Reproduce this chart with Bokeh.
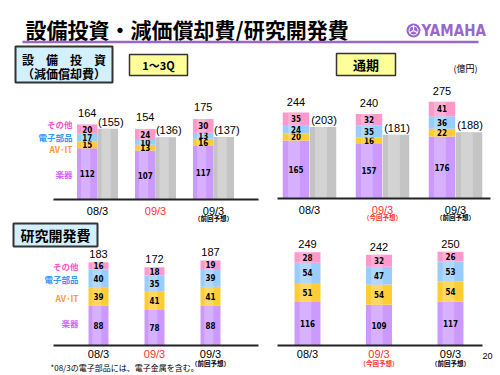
import math
import numpy as np
from bokeh.plotting import figure
from bokeh.models import Range1d
from bokeh.core.properties import value
from bokeh.embed import file_html
from bokeh.resources import INLINE

# ---------------- data ----------------
periods = ["08/3", "09/3", "09/3"]
period_colors = ["#000000", "#FF3333", "#000000"]
notes_left = ["", "", "（前回予想）"]
notes_right = ["", "（今回予想）", "（前回予想）"]
note_colors = ["#000000", "#FF3333", "#000000"]
segment_names = ["楽器", "AV･IT", "電子部品", "その他"]

# 設備投資 1~3Q (stacks: 楽器, AV-IT, 電子部品, その他) and 減価償却費
capex_q_gakki = [112, 107, 117]
capex_q_avit = [15, 13, 16]
capex_q_denshi = [17, 10, 13]
capex_q_other = [20, 24, 30]
capex_q_total = [164, 154, 175]
capex_q_dep = [155, 136, 137]

# 設備投資 通期
capex_y_gakki = [165, 157, 176]
capex_y_avit = [20, 16, 22]
capex_y_denshi = [24, 35, 36]
capex_y_other = [35, 32, 41]
capex_y_total = [244, 240, 275]
capex_y_dep = [203, 181, 188]

# 研究開発費 1~3Q
rd_q_gakki = [88, 78, 88]
rd_q_avit = [39, 41, 41]
rd_q_denshi = [40, 35, 39]
rd_q_other = [16, 18, 19]
rd_q_total = [183, 172, 187]

# 研究開発費 通期
rd_y_gakki = [116, 109, 117]
rd_y_avit = [51, 54, 54]
rd_y_denshi = [54, 47, 53]
rd_y_other = [28, 32, 26]
rd_y_total = [249, 242, 250]

# ---------------- styles ----------------
W, H = 500, 375
SEG_COLORS = [("#CC99FF", "#DCBBFF"), ("#FFCC33", "#FFDD77"),
              ("#99CCFF", "#BBDDFF"), ("#FF99CC", "#FFBBDD")]
GRAY = ("#C4C4C4", "#DADADA")
LEG_COLORS = ["#CC66FF", "#FF9933", "#3399FF", "#FF55CC"]
JP = value("Noto Sans CJK JP")
SANS = value("Liberation Sans")
NARROW = value("DejaVu Sans Condensed")

p = figure(width=W, height=H, x_range=Range1d(0, W), y_range=Range1d(H, 0),
           output_backend="svg", toolbar_location=None,
           x_axis_type=None, y_axis_type=None, min_border=0)
p.outline_line_color = None
p.background_fill_color = "white"
p.border_fill_color = "white"

# panel layouts: name -> (first group center px, group spacing px, baseline px, px per unit)
panels = {
    "tl": (97, 58, 199, 0.457),
    "tr": (309, 73, 198, 0.352),
    "bl": (98, 56, 345, 0.455),
    "br": (307, 71.5, 345, 0.375),
}
p.extra_x_ranges = {n: Range1d(-x0 / dx, (W - x0) / dx) for n, (x0, dx, b, k) in panels.items()}
p.extra_y_ranges = {n: Range1d((b - H) / k, b / k) for n, (x0, dx, b, k) in panels.items()}


def bar(name, x, w, bottom, top, colors):
    base, hi = colors
    p.vbar(x=x, width=w, bottom=bottom, top=top, fill_color=base, line_color=None,
           x_range_name=name, y_range_name=name)
    p.vbar(x=x - w * 0.08, width=w * 0.45, bottom=bottom, top=top, fill_color=hi,
           fill_alpha=0.7, line_color=None, x_range_name=name, y_range_name=name)


def draw_panel(name, stacks, totals, bw, off, total_dy, lab_dy, note_dy, notes, dep=None):
    x0, dx, b, k = panels[name]
    idx = np.arange(len(periods))
    xs = idx + off / dx
    w = bw / dx
    bottom = np.zeros(len(idx))
    for vals, cols in zip(stacks, SEG_COLORS):
        vals = np.array(vals, dtype=float)
        top = bottom + vals
        bar(name, xs, w, bottom, top, cols)
        p.text(x=xs, y=(bottom + top) / 2, text=[str(int(v)) for v in vals],
               text_font=NARROW, text_font_style="bold", text_font_size="8px",
               text_align="center", text_baseline="middle", text_color="#000000",
               x_range_name=name, y_range_name=name)
        bottom = top
    p.text(x=xs, y=bottom, text=[str(t) for t in totals], y_offset=-total_dy,
           text_font=SANS, text_font_size="11px", text_align="center",
           text_baseline="middle", text_color="#000000",
           x_range_name=name, y_range_name=name)
    if dep is not None:
        gx = idx - off / dx
        bar(name, gx, w, np.zeros(len(idx)), np.array(dep, dtype=float), GRAY)
        p.text(x=gx, y=dep, text=["(%d)" % d for d in dep], x_offset=3 if name == "tl" else 1,
               y_offset=-7, text_font=SANS, text_font_size="11px", text_align="center",
               text_baseline="middle", text_color="#000000",
               x_range_name=name, y_range_name=name)
    p.text(x=idx, y=[0] * len(idx), text=periods, y_offset=lab_dy, text_color=period_colors,
           text_font=SANS, text_font_size="11px", text_align="center", text_baseline="middle",
           x_range_name=name, y_range_name=name)
    p.text(x=idx, y=[0] * len(idx), text=notes, y_offset=note_dy, text_color=note_colors,
           text_font=JP, text_font_style="bold", text_font_size="6.5px", text_align="center",
           text_baseline="middle", x_range_name=name, y_range_name=name)


draw_panel("tl", [capex_q_gakki, capex_q_avit, capex_q_denshi, capex_q_other], capex_q_total,
           20.5, -10.25, 12, 11, 18, notes_left, dep=capex_q_dep)
draw_panel("tr", [capex_y_gakki, capex_y_avit, capex_y_denshi, capex_y_other], capex_y_total,
           26.5, -13.5, 11, 11, 18, notes_right, dep=capex_y_dep)
draw_panel("bl", [rd_q_gakki, rd_q_avit, rd_q_denshi, rd_q_other], rd_q_total,
           20, 0, 8, 8, 17, notes_left)
draw_panel("br", [rd_y_gakki, rd_y_avit, rd_y_denshi, rd_y_other], rd_y_total,
           26, 0, 8, 8, 17, notes_right)

# baselines
p.segment(x0=[53, 277, 53, 277], y0=[199, 198, 345, 345], x1=[258, 490, 258, 482],
          y1=[199, 198, 345, 345], line_color="#222222", line_width=2)

# segment legend labels (left of first bar)
leg_top_y = [173, 148, 136, 123]
leg_bot_y = [322, 297, 278, 265]
p.text(x=[72] * 4, y=leg_top_y, text=segment_names, text_color=LEG_COLORS, text_font=JP,
       text_font_style="bold", text_font_size="8.5px", text_align="right", text_baseline="middle")
p.text(x=[78] * 4, y=leg_bot_y, text=segment_names, text_color=LEG_COLORS, text_font=JP,
       text_font_style="bold", text_font_size="8.5px", text_align="right", text_baseline="middle")

# header
p.text(x=[25], y=[28], text=["設備投資・減価償却費/研究開発費"], text_font=JP,
       text_font_style="bold", text_font_size="21px", text_align="left", text_baseline="middle",
       text_color="#000000")
p.segment(x0=[22], y0=[41.5], x1=[478], y1=[41.5], line_color="#9966CC", line_width=2.5)

# Yamaha logo
p.scatter(x=[413], y=[30], size=14, marker="circle", fill_color="#9966CC", line_color=None)
p.scatter(x=[413], y=[30], size=9, marker="circle", fill_color=None, line_color="white", line_width=1)
for ang in (90, 210, 330):
    a = math.radians(ang)
    p.segment(x0=[413], y0=[30], x1=[413 + 5 * math.cos(a)], y1=[30 - 5 * math.sin(a)],
              line_color="white", line_width=1.3)
p.text(x=[421], y=[30], text=["YAMAHA"], text_font=NARROW, text_font_style="bold",
       text_font_size="15px", text_align="left", text_baseline="middle", text_color="#9966CC")

# boxes
p.quad(left=[15], right=[112], top=[46], bottom=[82], fill_color="#D2F0FF",
       line_color="#333333", line_width=2)
p.text(x=[63.5, 63.5], y=[59, 73], text=["設　備　投　資", "（減価償却費）"], text_font=JP,
       text_font_style="bold", text_font_size="12px", text_align="center",
       text_baseline="middle", text_color="#000000")
p.quad(left=[129, 336], right=[187, 395], top=[54, 53], bottom=[75, 75], fill_color="#FFFF99",
       line_color="#333333", line_width=1.5)
p.text(x=[158], y=[64.5], text=["1～3Q"], text_font=JP, text_font_style="bold",
       text_font_size="11px", text_align="center", text_baseline="middle", text_color="#000000")
p.text(x=[365.5], y=[64], text=["通期"], text_font=JP, text_font_style="bold",
       text_font_size="13px", text_align="center", text_baseline="middle", text_color="#000000")
p.text(x=[465], y=[68], text=["(億円)"], text_font=JP, text_font_size="9px",
       text_align="center", text_baseline="middle", text_color="#000000")

p.quad(left=[13], right=[97], top=[223], bottom=[246], fill_color="#D2F0FF",
       line_color="#333333", line_width=2)
p.text(x=[55], y=[234.5], text=["研究開発費"], text_font=JP, text_font_style="bold",
       text_font_size="14px", text_align="center", text_baseline="middle", text_color="#000000")

# footnote and page number
p.text(x=[50], y=[367], text=["*08/3の電子部品には、電子金属を含む。"], text_font=JP,
       text_font_size="8px", text_align="left", text_baseline="middle", text_color="#000000")
p.text(x=[487], y=[355], text=["20"], text_font=SANS, text_font_size="9px",
       text_align="center", text_baseline="middle", text_color="#000000")

open("out.html", "w").write(file_html(p, INLINE))
